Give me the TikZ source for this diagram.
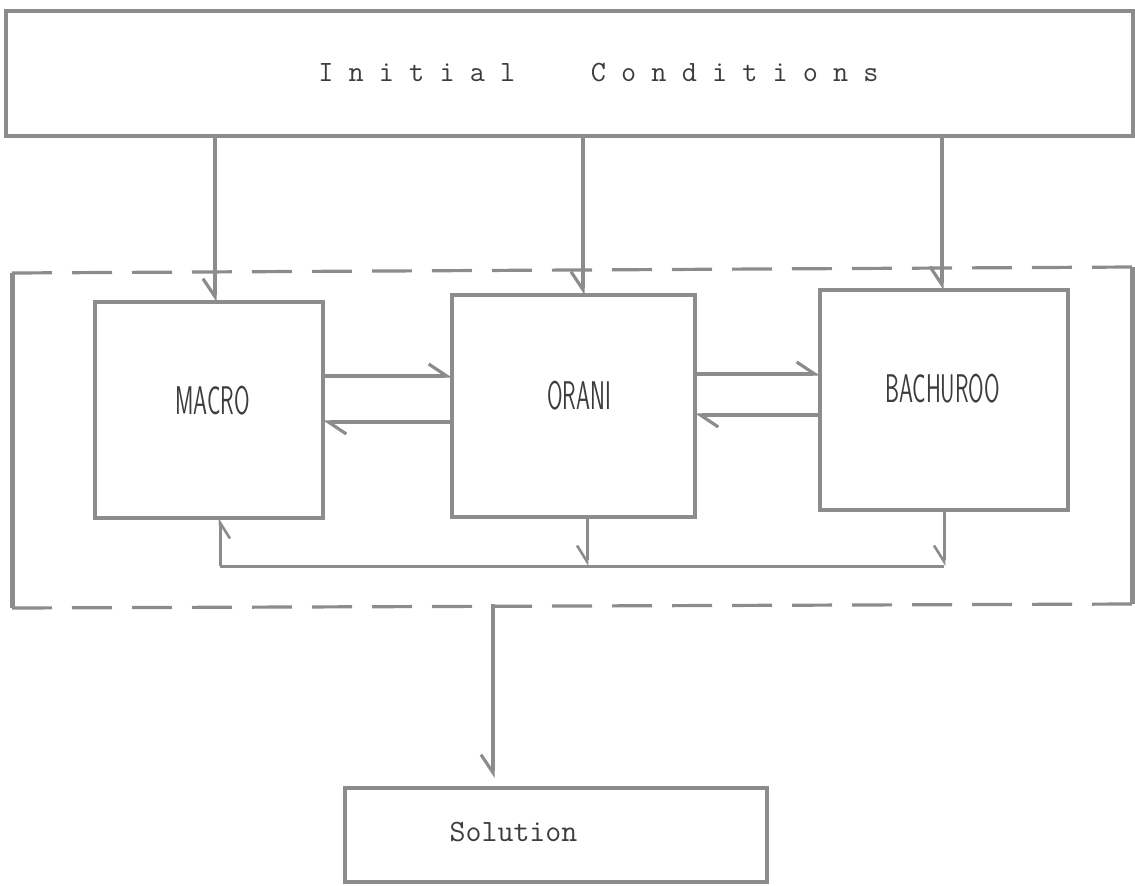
\documentclass[tikz,border=0pt]{standalone}
\usepackage{tikz}
\usetikzlibrary{arrows.meta,positioning,calc}
\usepackage{xcolor}
\definecolor{ink}{HTML}{3c3c3c}
\definecolor{pencil}{HTML}{8c8c8c}
\newcommand{\boxlabel}[1]{\scalebox{0.56}[1]{\sffamily\fontsize{20}{24}\selectfont #1}}
\newcommand{\typed}[1]{{\ttfamily\fontsize{14.7}{17}\selectfont #1}}

\begin{document}
\begin{tikzpicture}[x=0.5pt,y=-0.5pt,
   blk/.style={draw=pencil,line width=2pt,inner sep=0pt,outer sep=0pt,text=ink},
   flow/.style={draw=pencil,line width=2.2pt,-{Straight Barb[harpoon,length=9pt,width=12pt,line width=1.6pt]}},
   vflow/.style={draw=pencil,line width=2.2pt,-{Straight Barb[harpoon,swap,length=9pt,width=12pt,line width=1.6pt]}},
   back/.style={draw=pencil,line width=1.5pt,-{Straight Barb[harpoon,swap,length=8pt,width=10pt,line width=1.3pt]}},
   side/.style={draw=pencil,line width=2.5pt},
   dashy/.style={draw=pencil,line width=1.6pt,dash pattern=on 20pt off 10pt}]
  \useasboundingbox (0,0) rectangle (1135,885);
  % top and bottom boxes
  \node[blk,minimum width=563.5pt,minimum height=62.5pt,
     label={[xshift=14.5pt,text=ink]center:\typed{I\ n\ i\ t\ i\ a\ l\ \ \ \ \ C\ o\ n\ d\ i\ t\ i\ o\ n\ s}}]
     (ic) at (569.5,73) {};
  \node[blk,minimum width=211pt,minimum height=47pt,
     label={[xshift=-21.25pt,yshift=1.5pt,text=ink]center:{\ttfamily\fontsize{15.5}{18}\selectfont Solution}}]
     (sol) at (556,835) {};
  % the three models
  \node[blk,minimum width=114pt,minimum height=108pt,
     label={[xshift=1.75pt,yshift=4.5pt,text=ink]center:\boxlabel{MACRO}}] (macro) at (209,410) {};
  \node[blk,minimum width=121.5pt,minimum height=111pt,right=64.5pt of macro,yshift=2pt,
     label={[xshift=2.75pt,yshift=5pt,text=ink]center:\boxlabel{ORANI}}] (orani) {};
  \node[blk,minimum width=124pt,minimum height=110pt,right=62.5pt of orani,yshift=3pt,
     label={[xshift=-0.75pt,yshift=5.5pt,text=ink]center:\boxlabel{BACHUROO}}] (bach) {};
  % frame round the models
  \coordinate (fr-nw) at (12,273);
  \coordinate (fr-ne) at (1132,267);
  \coordinate (fr-sw) at (12,608);
  \coordinate (fr-se) at (1132,604);
  \draw[side] (fr-nw) -- (fr-sw);
  \draw[side] (fr-ne) -- (fr-se);
  \draw[dashy] (fr-nw) -- (fr-ne);
  \draw[dashy] (fr-sw) -- (fr-se);
  % initial conditions feed each model
  \draw[vflow] ([xshift=3pt]macro.north |- ic.south) -- ([xshift=3pt]macro.north);
  \draw[vflow] ([xshift=4.75pt]orani.north |- ic.south) -- ([xshift=4.75pt]orani.north);
  \draw[vflow] ([xshift=-1pt]bach.north |- ic.south) -- ([xshift=-1pt]bach.north);
  % links between the models
  \draw[flow] ([yshift=17pt]macro.east) -- ([yshift=17pt]macro.east -| orani.west);
  \draw[flow] ([yshift=-8pt]orani.west) -- ([yshift=-8pt]orani.west -| macro.east);
  \draw[flow] ([yshift=16pt]orani.east) -- ([yshift=16pt]orani.east -| bach.west);
  \draw[flow] ([yshift=-7.5pt]bach.west) -- ([yshift=-7.5pt]bach.west -| orani.east);
  % feedback loop
  \coordinate (loop) at (220,566);
  \draw[draw=pencil,line width=1.5pt] (bach.south |- loop) -- (loop);
  \draw[back] (bach.south) -- (bach.south |- loop);
  \draw[back] ([xshift=6.75pt]orani.south) -- ([xshift=6.75pt]orani.south |- loop);
  \draw[back] (loop) -- (loop |- macro.south);
  % out to the solution
  \draw[vflow,shorten >=5pt] ([xshift=-31.5pt]sol.north |- fr-se) -- ([xshift=-31.5pt]sol.north);
\end{tikzpicture}
\end{document}
